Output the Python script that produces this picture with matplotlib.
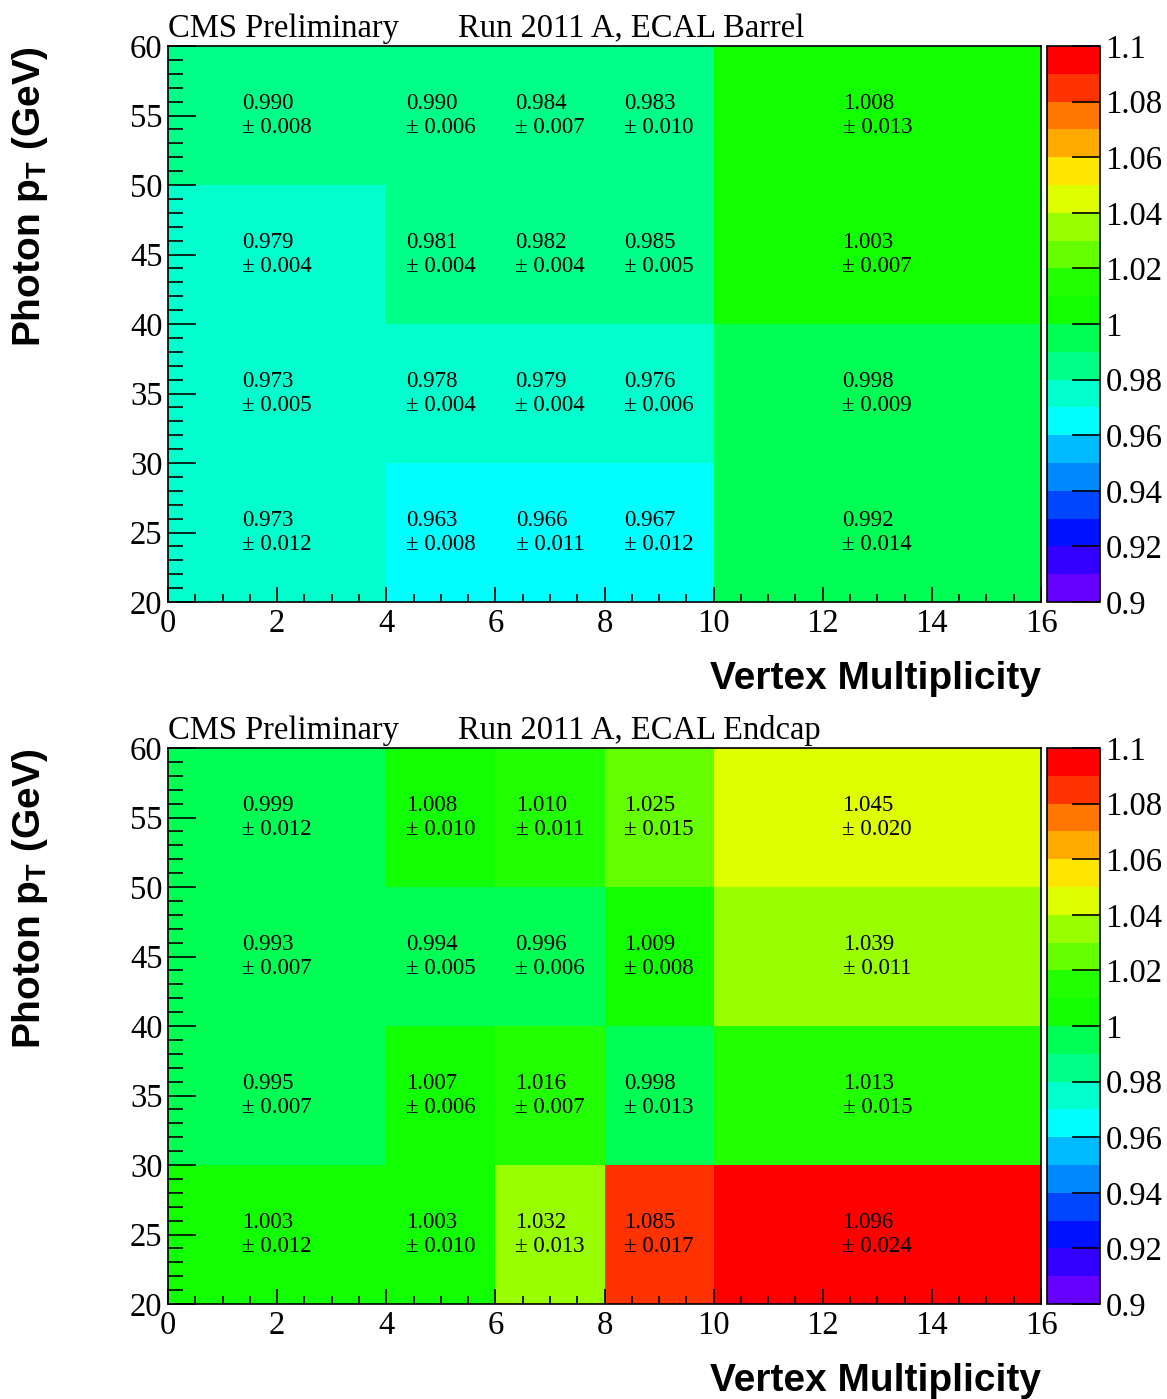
import numpy as np
import matplotlib
matplotlib.use('Agg')
import matplotlib.pyplot as plt
from matplotlib.colors import ListedColormap, BoundaryNorm
from matplotlib.ticker import MultipleLocator, FuncFormatter

plt.rcParams['font.family'] = 'Liberation Serif'
plt.rcParams['mathtext.fontset'] = 'custom'
plt.rcParams['mathtext.rm'] = 'Liberation Sans:bold'
plt.rcParams['mathtext.bf'] = 'Liberation Sans:bold'
plt.rcParams['mathtext.it'] = 'Liberation Sans:bold'

# bin edges
x_edges = [0, 4, 6, 8, 10, 16]
y_edges = [20, 30, 40, 50, 60]

# ratio values, rows from pT 20-30 upwards
barrel_val = [[0.973, 0.963, 0.966, 0.967, 0.992],
              [0.973, 0.978, 0.979, 0.976, 0.998],
              [0.979, 0.981, 0.982, 0.985, 1.003],
              [0.990, 0.990, 0.984, 0.983, 1.008]]
barrel_err = [[0.012, 0.008, 0.011, 0.012, 0.014],
              [0.005, 0.004, 0.004, 0.006, 0.009],
              [0.004, 0.004, 0.004, 0.005, 0.007],
              [0.008, 0.006, 0.007, 0.010, 0.013]]

endcap_val = [[1.003, 1.003, 1.032, 1.085, 1.096],
              [0.995, 1.007, 1.016, 0.998, 1.013],
              [0.993, 0.994, 0.996, 1.009, 1.039],
              [0.999, 1.008, 1.010, 1.025, 1.045]]
endcap_err = [[0.012, 0.010, 0.013, 0.017, 0.024],
              [0.007, 0.006, 0.007, 0.013, 0.015],
              [0.007, 0.005, 0.006, 0.008, 0.011],
              [0.012, 0.010, 0.011, 0.015, 0.020]]

titles = ['Run 2011 A, ECAL Barrel', 'Run 2011 A, ECAL Endcap']

# 20 contour colours, 0.90 -> 1.10 (ROOT-like rainbow)
palette = ['#6600ff', '#3300ff', '#0011ff', '#0046ff', '#0088ff',
           '#00bbff', '#00ffff', '#00ffcc', '#00ff88', '#00ff55',
           '#11ff00', '#22ff00', '#66ff00', '#99ff00', '#ddff00',
           '#ffe600', '#ffaa00', '#ff7700', '#ff3300', '#ff0000']
cmap = ListedColormap(palette)
norm = BoundaryNorm(np.linspace(0.9, 1.1, 21), cmap.N)

fig = plt.figure(figsize=(11.67, 13.99), dpi=100)

W, H = 1167.0, 1399.0
tick_fs = 23.5
label_fs = 28


def draw_panel(top_px, vals, errs, title):
    ax = fig.add_axes([168 / W, 1 - (top_px + 556) / H, 873 / W, 556 / H])
    cax = fig.add_axes([1047 / W, 1 - (top_px + 556) / H, 53 / W, 556 / H])
    vals = np.array(vals)
    mesh = ax.pcolormesh(x_edges, y_edges, vals, cmap=cmap, norm=norm)
    for i in range(len(y_edges) - 1):
        for j in range(len(x_edges) - 1):
            xc = 0.5 * (x_edges[j] + x_edges[j + 1])
            yc = 0.5 * (y_edges[i] + y_edges[i + 1])
            ax.text(xc, yc, '%.3f\n\u00b1 %.3f' % (vals[i, j], errs[i][j]),
                    ha='center', va='center', multialignment='left',
                    fontsize=16.5, family='Liberation Serif', linespacing=1.2)
    ax.set_xlim(0, 16)
    ax.set_ylim(20, 60)
    ax.xaxis.set_major_locator(MultipleLocator(2))
    ax.xaxis.set_minor_locator(MultipleLocator(0.5))
    ax.yaxis.set_major_locator(MultipleLocator(5))
    ax.yaxis.set_minor_locator(MultipleLocator(1))
    ax.tick_params(axis='x', which='major', direction='in', length=10.8, width=1.2,
                   labelsize=tick_fs, pad=5)
    ax.tick_params(axis='x', which='minor', direction='in', length=5.8, width=1.2)
    ax.tick_params(axis='y', which='major', direction='in', length=20, width=1.2,
                   labelsize=tick_fs, pad=4)
    ax.tick_params(axis='y', which='minor', direction='in', length=10.8, width=1.2)
    for s in ax.spines.values():
        s.set_linewidth(1.2)

    ax.text(0, 1.016, 'CMS Preliminary', transform=ax.transAxes,
            ha='left', va='baseline', fontsize=tick_fs)
    ax.text(0.332, 1.016, title, transform=ax.transAxes,
            ha='left', va='baseline', fontsize=tick_fs)
    ax.text(1.0, -0.138, 'Vertex Multiplicity', transform=ax.transAxes,
            ha='right', va='center', fontsize=label_fs, family='Liberation Sans',
            weight='bold')
    ax.text(-0.158, 1.0, 'Photon p$_{T}$ (GeV)', transform=ax.transAxes,
            ha='center', va='top', rotation=90, fontsize=label_fs,
            family='Liberation Sans', weight='bold')

    cb = fig.colorbar(mesh, cax=cax, ticks=np.arange(0.9, 1.1001, 0.02))
    cb.ax.yaxis.set_major_formatter(FuncFormatter(lambda v, p: '%g' % round(v, 2)))
    cb.ax.minorticks_off()
    cb.ax.tick_params(direction='in', length=20, width=1.2, labelsize=tick_fs, pad=4)
    cb.outline.set_linewidth(1.2)


draw_panel(46, barrel_val, barrel_err, titles[0])
draw_panel(748, endcap_val, endcap_err, titles[1])

fig.savefig('out.png', dpi=100)
